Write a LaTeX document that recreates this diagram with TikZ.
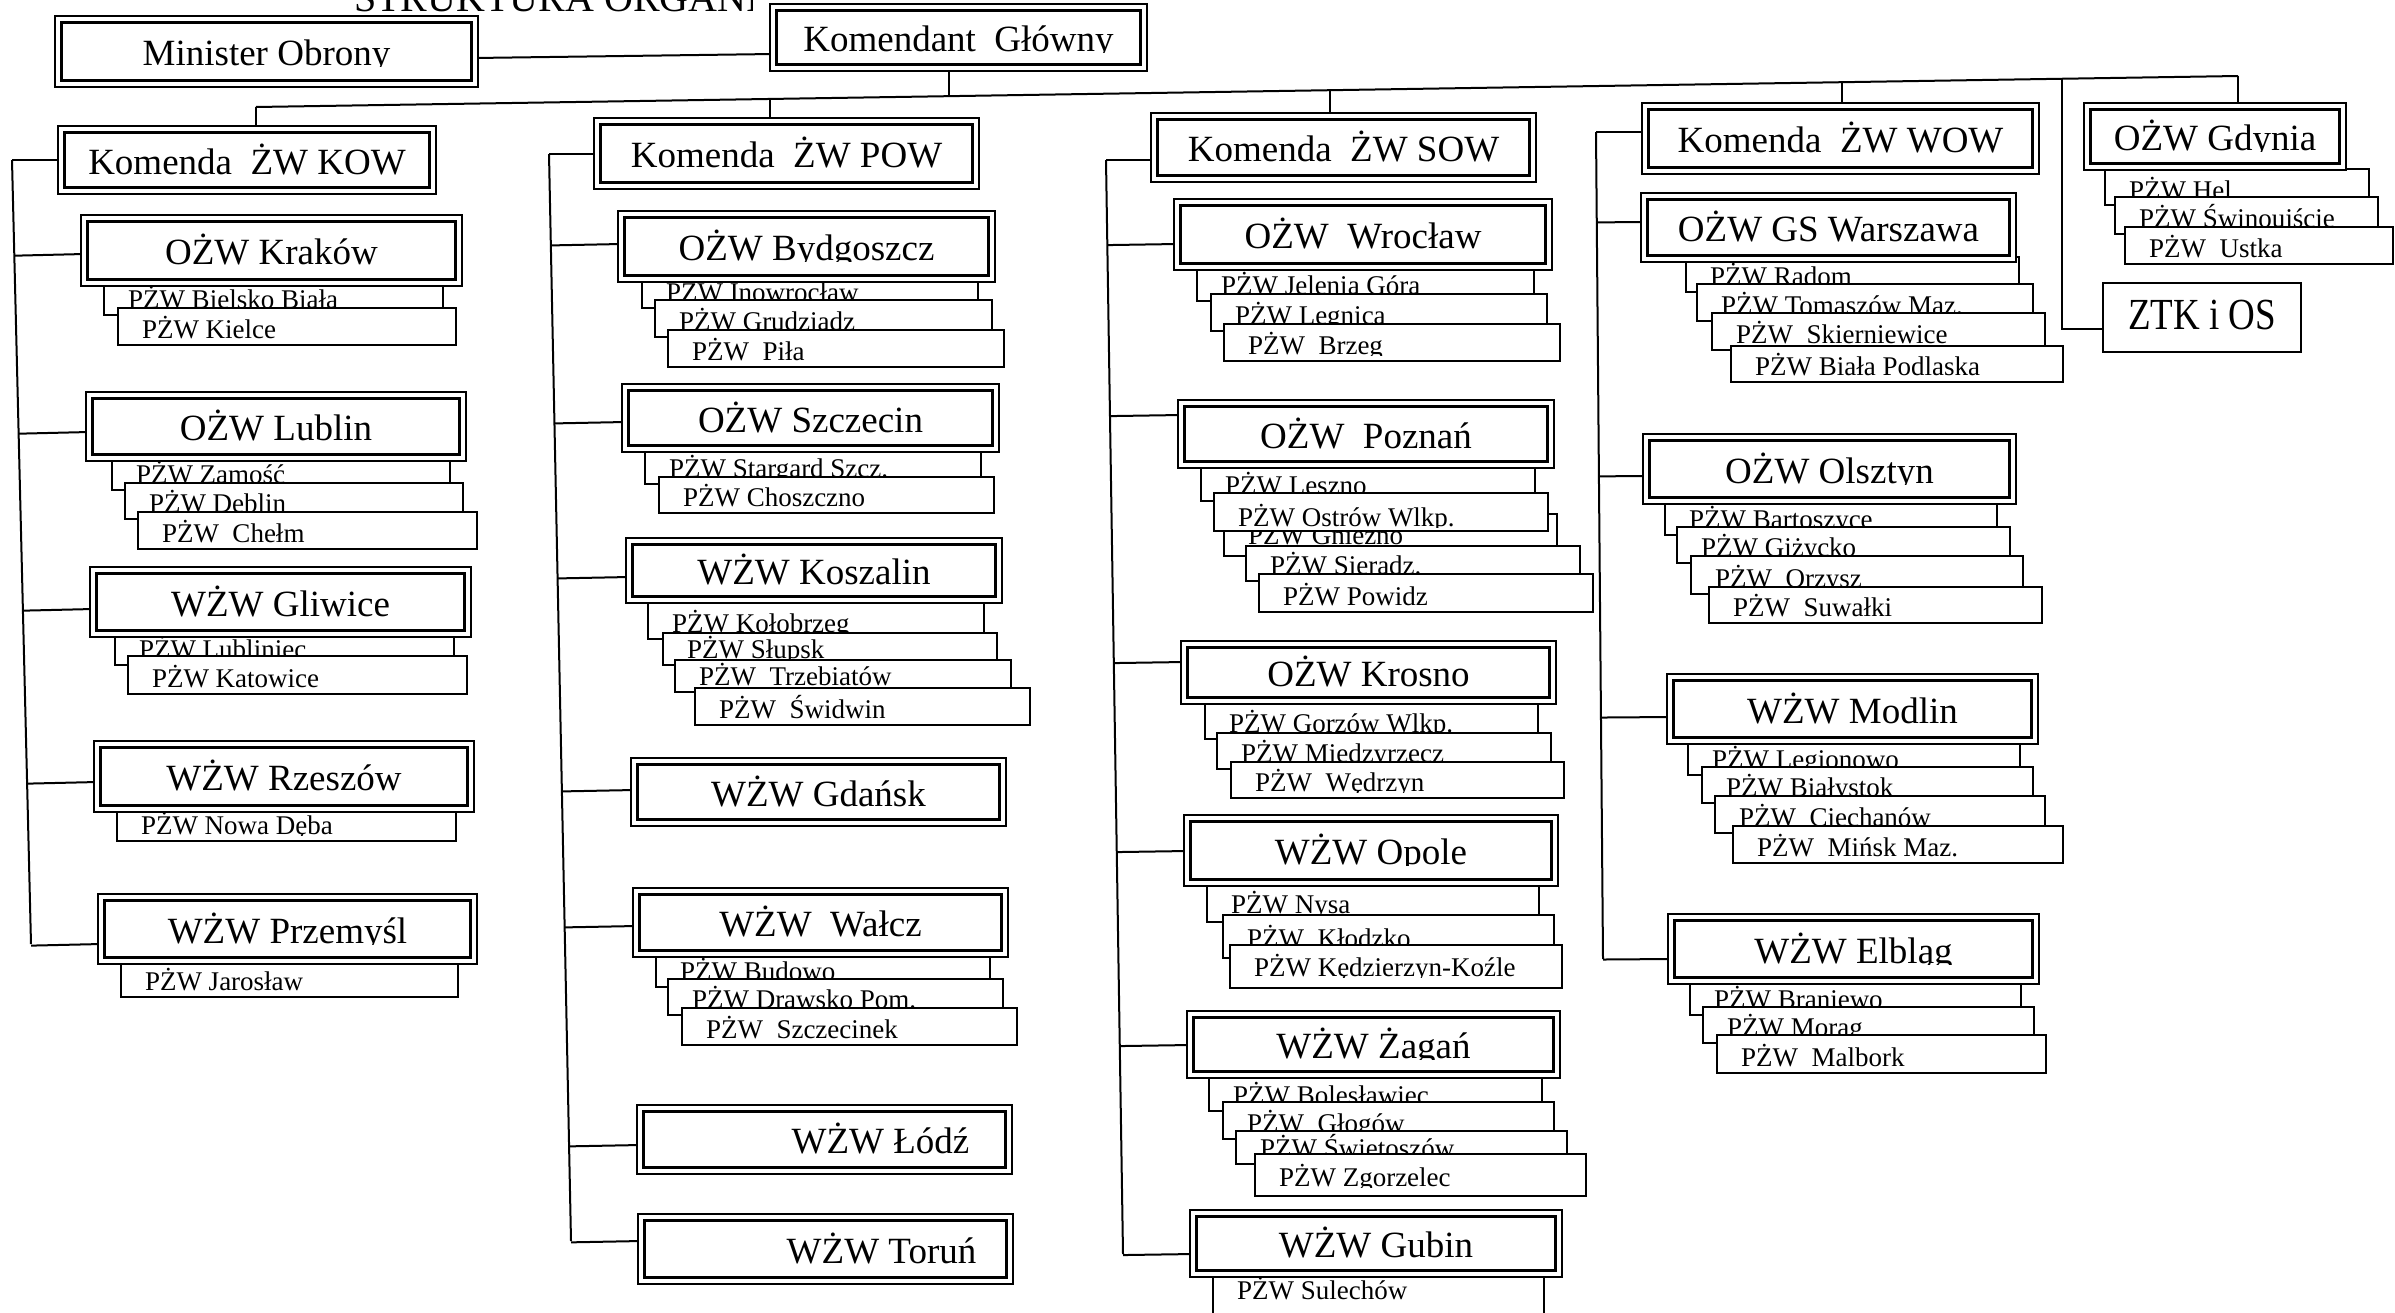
\documentclass[tikz,border=0pt]{standalone}
\usepackage{fontspec}
\setmainfont{Liberation Serif}
\usetikzlibrary{calc}
\pgfdeclarelayer{bg}
\pgfsetlayers{bg,main}
\newcommand\MyBig{\fontsize{37}{42}\selectfont}
\newcommand\MySmall{\fontsize{27}{31}\selectfont}
\tikzset{
  mainbox/.style={draw, line width=2.4pt, double, double distance=4pt, fill=white, inner sep=0pt, outer sep=0pt},
  ztkbox/.style={draw, line width=2.2pt, fill=white, inner sep=0pt, outer sep=0pt},
  subbox/.style={draw, line width=1.8pt, fill=white, inner sep=0pt, outer sep=0pt},
  maintext/.style={font=\MyBig, inner sep=0pt, outer sep=0pt, anchor=base},
  subtext/.style={font=\MySmall, inner sep=0pt, outer sep=0pt, anchor=base west},
  conn/.style={line width=2pt},
}
\newcommand\MBox[7][0]{%
  \node[mainbox, minimum width={#5-#3-8.8}, minimum height={#6-#4-8.8}] (#2) at ({(#3+#5)/2},{(#4+#6)/2}) {};
  \begin{scope}
    \clip (#3,#4) rectangle (#5,{(#4+#6)/2+15});
    \node[maintext] (#2-t) at ([xshift=#1pt,yshift=-14pt]#2.center) {#7};
  \end{scope}}
\newcommand\SBox[7][7]{%
  \node[subbox, anchor=north west, minimum width={#5-#3}, minimum height={#6-#4}] (#2) at (#3,#4) {};
  \begin{scope}
    \clip (#3,#4) rectangle (#5,{#6-#1+1});
    \node[subtext] (#2-t) at ([xshift=24pt,yshift=#1pt]#2.south west) {#7};
  \end{scope}}
\newcommand\Stub[3]{%
  \coordinate (#2-s) at (#2.west |- 0,#3);
  \draw[conn] ($(#1t)!(#2-s)!(#1b)$) -- (#2-s);}
\begin{document}
\begin{tikzpicture}[x=1pt,y=-1pt]
\useasboundingbox (0,0) rectangle (2395,1312);
\begin{pgfonlayer}{bg}
  \fill[white] (0,0) rectangle (2395,1312);
\end{pgfonlayer}

% title (cut off by the top edge)
\begin{scope}
  \clip (350,0) rectangle (752,14);
  \node[inner sep=0pt, anchor=base west, font=\fontsize{40}{44}\selectfont] (title) at (354,11) {STRUKTURA ORGANIZACYJNA};
\end{scope}

% top level
\MBox{min}{54}{15}{479}{88}{Minister Obrony}
\MBox{kg}{769}{3}{1148}{72}{Komendant\ \ Główny}

% ---------- column KOW ----------
\MBox{kow}{57}{125}{437}{195}{Komenda\ \ ŻW KOW}
\SBox{kr1}{104}{284}{443}{315}{PŻW Bielsko Biała}
\SBox{kr2}{118}{308}{456}{345}{PŻW Kielce}
\MBox{krakow}{80}{214}{463}{287}{OŻW Kraków}
\SBox{lu1}{112}{459}{450}{490}{PŻW Zamość}
\SBox{lu2}{125}{483}{463}{519}{PŻW Dęblin}
\SBox{lu3}{138}{512}{477}{549}{PŻW\ \ Chełm}
\MBox{lublin}{85}{391}{467}{462}{OŻW Lublin}
\SBox{gl1}{115}{634}{454}{665}{PŻW Lubliniec}
\SBox{gl2}{128}{656}{467}{694}{PŻW Katowice}
\MBox{gliwice}{89}{566}{472}{638}{WŻW Gliwice}
\SBox{rz1}{117}{809}{456}{841}{PŻW Nowa Dęba}
\MBox{rzeszow}{93}{740}{475}{813}{WŻW Rzeszów}
\SBox{pr1}{121}{961}{458}{997}{PŻW Jarosław}
\MBox{przemysl}{97}{893}{478}{965}{WŻW Przemyśl}

% ---------- column POW ----------
\MBox{pow}{593}{117}{980}{190}{Komenda\ \ ŻW POW}
\SBox{by1}{642}{279}{978}{308}{PŻW Inowrocław}
\SBox{by2}{655}{300}{992}{337}{PŻW Grudziądz}
\SBox{by3}{668}{330}{1004}{367}{PŻW\ \ Piła}
\MBox{byd}{617}{210}{996}{283}{OŻW Bydgoszcz}
\SBox{sz1}{645}{450}{981}{484}{PŻW Stargard Szcz.}
\SBox{sz2}{659}{477}{994}{513}{PŻW Choszczno}
\MBox{szc}{621}{383}{1000}{453}{OŻW Szczecin}
\SBox{ko1}{648}{602}{984}{639}{PŻW Kołobrzeg}
\SBox{ko2}{663}{633}{997}{665}{PŻW Słupsk}
\SBox{ko3}{675}{660}{1011}{692}{PŻW\ \ Trzebiatów}
\SBox{ko4}{695}{688}{1030}{725}{PŻW\ \ Świdwin}
\MBox{kos}{625}{537}{1003}{604}{WŻW Koszalin}
\MBox{gda}{630}{757}{1007}{827}{WŻW Gdańsk}
\SBox{wa1}{656}{954}{990}{987}{PŻW Budowo}
\SBox{wa2}{668}{979}{1003}{1015}{PŻW Drawsko Pom.}
\SBox{wa3}{682}{1008}{1017}{1045}{PŻW\ \ Szczecinek}
\MBox{wal}{632}{887}{1009}{958}{WŻW\ \ Wałcz}
\MBox[56]{lodz}{636}{1104}{1013}{1175}{WŻW Łódź}
\MBox[56]{torun}{637}{1213}{1014}{1285}{WŻW Toruń}

% ---------- column SOW ----------
\MBox{sow}{1150}{112}{1537}{183}{Komenda\ \ ŻW SOW}
\SBox{wr1}{1197}{267}{1534}{301}{PŻW Jelenia Góra}
\SBox{wr2}{1211}{294}{1547}{331}{PŻW Legnica}
\SBox{wr3}{1224}{324}{1560}{361}{PŻW\ \ Brzeg}
\MBox{wro}{1173}{198}{1553}{271}{OŻW\ \ Wrocław}
\SBox{po1}{1201}{466}{1535}{501}{PŻW Leszno}
\SBox[12]{po3}{1224}{514}{1557}{556}{PŻW Gniezno}
\SBox[5]{po2}{1214}{493}{1548}{531}{PŻW Ostrów Wlkp.}
\SBox{po4}{1246}{546}{1580}{581}{PŻW Sieradz.}
\SBox{po5}{1259}{574}{1593}{612}{PŻW Powidz}
\MBox{poz}{1177}{399}{1555}{469}{OŻW\ \ Poznań}
\SBox{ks1}{1205}{702}{1538}{739}{PŻW Gorzów Wlkp.}
\SBox{ks2}{1217}{733}{1551}{769}{PŻW Międzyrzecz}
\SBox{ks3}{1231}{762}{1564}{798}{PŻW\ \ Wędrzyn}
\MBox{kro}{1180}{640}{1557}{705}{OŻW Krosno}
\SBox[9]{op1}{1207}{881}{1539}{922}{PŻW Nysa}
\SBox[11]{op2}{1223}{915}{1554}{958}{PŻW\ \ Kłodzko}
\SBox[12]{op3}{1230}{945}{1562}{988}{PŻW Kędzierzyn-Koźle}
\MBox{opo}{1183}{814}{1559}{887}{WŻW Opole}
\SBox{za1}{1209}{1077}{1542}{1111}{PŻW Bolesławiec}
\SBox{za2}{1223}{1102}{1554}{1139}{PŻW\ \ Głogów}
\SBox{za3}{1236}{1131}{1567}{1164}{PŻW Świętoszów}
\SBox[10]{za4}{1255}{1154}{1586}{1196}{PŻW Zgorzelec}
\MBox{zag}{1186}{1010}{1561}{1079}{WŻW Żagań}
\SBox[21]{gu1}{1213}{1274}{1544}{1320}{PŻW Sulechów}
\MBox{gub}{1189}{1209}{1563}{1278}{WŻW Gubin}

% ---------- column WOW ----------
\MBox{wow}{1641}{102}{2040}{175}{Komenda\ \ ŻW WOW}
\SBox{gs1}{1686}{257}{2019}{292}{PŻW Radom}
\SBox{gs2}{1697}{284}{2033}{321}{PŻW Tomaszów Maz.}
\SBox{gs3}{1712}{313}{2045}{350}{PŻW\ \ Skierniewice}
\SBox{gs4}{1731}{346}{2063}{382}{PŻW Biała Podlaska}
\MBox{gsw}{1640}{192}{2017}{263}{OŻW GS Warszawa}
\SBox{ol1}{1665}{501}{1997}{535}{PŻW Bartoszyce}
\SBox{ol2}{1677}{527}{2010}{563}{PŻW Giżycko}
\SBox{ol3}{1691}{556}{2023}{594}{PŻW\ \ Orzysz}
\SBox{ol4}{1709}{587}{2042}{623}{PŻW\ \ Suwałki}
\MBox{ols}{1642}{433}{2017}{505}{OŻW Olsztyn}
\SBox{mo1}{1688}{741}{2020}{775}{PŻW Legionowo}
\SBox{mo2}{1702}{767}{2033}{803}{PŻW Białystok}
\SBox{mo3}{1715}{796}{2045}{833}{PŻW\ \ Ciechanów}
\SBox{mo4}{1733}{826}{2063}{863}{PŻW\ \ Mińsk Maz.}
\MBox{mod}{1666}{673}{2039}{745}{WŻW Modlin}
\SBox{el1}{1690}{980}{2021}{1015}{PŻW Braniewo}
\SBox{el2}{1703}{1007}{2034}{1043}{PŻW Morąg}
\SBox{el3}{1717}{1035}{2046}{1073}{PŻW\ \ Malbork}
\MBox{elb}{1667}{913}{2040}{985}{WŻW Elbląg}

% ---------- Gdynia, ZTK ----------
\SBox[6]{gd1}{2105}{169}{2369}{205}{PŻW Hel}
\SBox{gd2}{2115}{197}{2378}{234}{PŻW Świnoujście}
\SBox{gd3}{2125}{227}{2393}{264}{PŻW\ \ Ustka}
\MBox{gdy}{2083}{102}{2347}{171}{OŻW Gdynia}
\node[ztkbox, anchor=north west, minimum width=198, minimum height=69] (ztk) at (2103,283) {};
\node[maintext] (ztk-t) at ([yshift=-12pt]ztk.center) {\scalebox{1}[1.2]{ZTK i OS}};

% ---------- connectors ----------
\begin{pgfonlayer}{bg}
  \draw[conn] (min.east |- 0,58) -- (kg.west |- 0,54);
  \coordinate (busL) at (256,107);
  \coordinate (busR) at (2238,76);
  \coordinate (b-kg) at (949,96.2);
  \coordinate (b-pow) at (770,99);
  \coordinate (b-sow) at (1330,90.2);
  \coordinate (b-wow) at (1842,82.2);
  \coordinate (b-ztk) at (2062,78.8);
  \draw[conn] (busL) -- (busR);
  \draw[conn] (b-kg |- kg.south) -- (b-kg);
  \draw[conn] (busL) -- (busL |- kow.north);
  \draw[conn] (b-pow) -- (b-pow |- pow.north);
  \draw[conn] (b-sow) -- (b-sow |- sow.north);
  \draw[conn] (b-wow) -- (b-wow |- wow.north);
  \draw[conn] (busR) -- (busR |- gdy.north);
  \coordinate (z-b) at (2062,329);
  \draw[conn] (b-ztk) -- (z-b) -- (z-b -| ztk.west);
  % KOW
  \coordinate (c1t) at (12,160);
  \coordinate (c1b) at (31,944);
  \draw[conn] (c1t) -- (c1b);
  \draw[conn] (c1t) -- (c1t -| kow.west);
  \Stub{c1}{krakow}{254}
  \Stub{c1}{lublin}{432}
  \Stub{c1}{gliwice}{609}
  \Stub{c1}{rzeszow}{782}
  \Stub{c1}{przemysl}{944}
  % POW
  \coordinate (c2t) at (549,154);
  \coordinate (c2b) at (571,1241);
  \draw[conn] (c2t) -- (c2b);
  \draw[conn] (c2t) -- (c2t -| pow.west);
  \Stub{c2}{byd}{244}
  \Stub{c2}{szc}{422}
  \Stub{c2}{kos}{577}
  \Stub{c2}{gda}{790}
  \Stub{c2}{wal}{926}
  \Stub{c2}{lodz}{1145}
  \Stub{c2}{torun}{1241}
  % SOW
  \coordinate (c3t) at (1106,160);
  \coordinate (c3b) at (1123,1254);
  \draw[conn] (c3t) -- (c3b);
  \draw[conn] (c3t) -- (c3t -| sow.west);
  \Stub{c3}{wro}{244}
  \Stub{c3}{poz}{415}
  \Stub{c3}{kro}{662}
  \Stub{c3}{opo}{851}
  \Stub{c3}{zag}{1045}
  \Stub{c3}{gub}{1254}
  % WOW
  \coordinate (c4t) at (1596,132);
  \coordinate (c4b) at (1603,959);
  \draw[conn] (c4t) -- (c4b);
  \draw[conn] (c4t) -- (c4t -| wow.west);
  \Stub{c4}{gsw}{222}
  \Stub{c4}{ols}{476}
  \Stub{c4}{mod}{717}
  \Stub{c4}{elb}{959}
\end{pgfonlayer}
\end{tikzpicture}
\end{document}
